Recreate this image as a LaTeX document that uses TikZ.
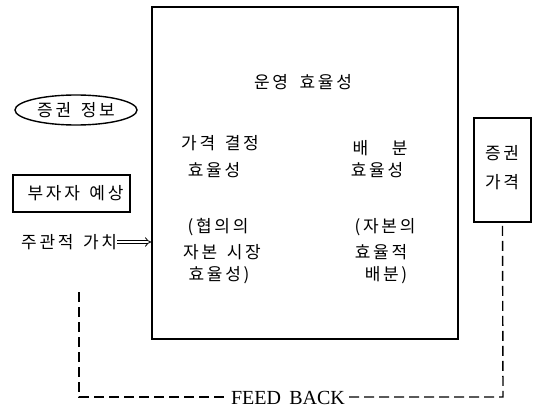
\documentclass[tikz,border=0pt]{standalone}
\usepackage{fontspec}
\setmainfont{Liberation Serif}
\newfontfamily\kr[LetterSpace=16]{Noto Sans CJK KR}
\newcommand\kgap{\hspace{5pt}}
\newcommand\kgs{\hspace{3pt}}
\usetikzlibrary{arrows.meta,shapes.geometric}
\begin{document}
\begin{tikzpicture}[x=1pt,y=-1pt,
  lbl/.style={font=\kr\fontsize{17}{19}\selectfont, inner sep=0pt, align=center},
  boxline/.style={draw, line width=1.5pt},
  fb/.style={draw, line width=1.4pt, dash pattern=on 10pt off 5pt}]
\useasboundingbox (0,0) rectangle (543,409);
% main box
\node[boxline, minimum width=306pt, minimum height=332pt, inner sep=0pt] (main) at (305,173) {};
\node[lbl] (op) at (303,82) {운영 \kgap{}효율성};
\node[lbl] (pr1) at (220,143) {가격 \kgs{}결정};
\node[lbl] (pr2) at (214,170) {효율성};
\node[lbl] (pr3) at (218,227) {(협의의};
\node[lbl] (pr4) at (222,252) {자본 \kgs{}시장};
\node[lbl] (pr5) at (219,275) {효율성)};
\node[lbl] (al1) at (380,148) {배\quad{} 분};
\node[lbl] (al2) at (377,170) {효율성};
\node[lbl] (al3) at (385,227) {(자본의};
\node[lbl] (al4) at (381,252) {효율적};
\node[lbl] (al5) at (386,275) {배분)};
% left side
\node[draw, ellipse, line width=1.4pt, minimum width=122pt, minimum height=30pt, inner sep=0pt, lbl] (info) at (76,110) {증권 \kgs{}정보};
\node[boxline, minimum width=117pt, minimum height=37pt, inner sep=0pt, lbl] (inv) at (71.5,193.5) {\hspace*{8pt}부자자 \kgs{}예상};
\node[lbl, anchor=west] (subj) at (21,242) {주관적 \kgs{}가치};
\draw[double, line width=0.8pt, double distance=2.4pt, -{Implies}] (subj.east) -- (main.west |- subj.east);
% right box
\node[boxline, minimum width=57pt, minimum height=104pt, inner sep=0pt] (price) at (502.5,170) {};
\node[lbl] (pr) at (502,153) {증권};
\node[lbl] (pg) at (502,182) {가격};
% feedback
\node[font=\fontsize{20}{22}\selectfont, inner xsep=4pt, inner ysep=0pt, anchor=base] (feed) at (288,404) {FEED\, BACK};
\coordinate (fstart) at (79,292);
\coordinate (fbl) at (79,397);
\coordinate (fbr) at (503,397);
\draw[fb] (fstart) -- (fbl) -- (fbl -| feed.west);
\draw[fb] (fbr -| feed.east) -- (fbr) -- (price.south);
\end{tikzpicture}
\end{document}
